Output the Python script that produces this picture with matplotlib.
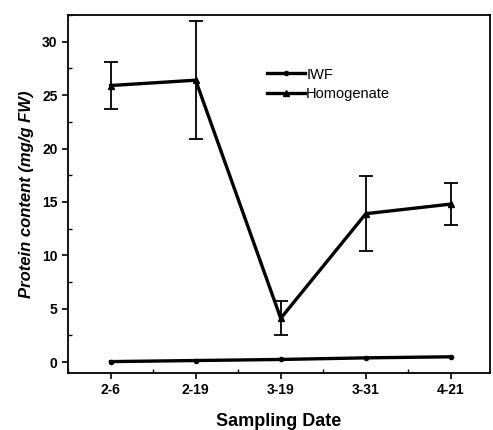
import matplotlib
matplotlib.use("Agg")
import matplotlib.pyplot as plt
from matplotlib.ticker import MultipleLocator
from matplotlib.lines import Line2D

dates = ["2-6", "2-19", "3-19", "3-31", "4-21"]
iwf = [0.05, 0.15, 0.25, 0.4, 0.5]
homogenate = [25.9, 26.4, 4.1, 13.9, 14.8]
homogenate_err = [2.2, 5.5, 1.6, 3.5, 2.0]

plt.rcParams['font.family'] = ['Liberation Sans', 'DejaVu Sans']

fig = plt.figure(figsize=(4.93, 4.30), dpi=100)
ax = fig.add_axes([0.138, 0.133, 0.856, 0.832])

x = list(range(len(dates)))
ax.plot(x, iwf, color='black', lw=2.4, marker='o', ms=3)
ax.errorbar(x, homogenate, yerr=homogenate_err, color='black', lw=2.4,
            marker='^', ms=4, capsize=5, elinewidth=1.3, capthick=1.3)

ax.set_xlim(-0.5, 4.46)
ax.set_ylim(-1.0, 32.5)
ax.set_xticks(x)
ax.set_xticklabels(dates, fontweight='bold', fontsize=10)
ax.yaxis.set_major_locator(MultipleLocator(5))
ax.yaxis.set_minor_locator(MultipleLocator(2.5))
ax.xaxis.set_minor_locator(MultipleLocator(0.5))
for lab in ax.get_yticklabels():
    lab.set_fontweight('bold')
    lab.set_fontsize(10)
ax.tick_params(axis='both', which='major', direction='out', length=4, width=1.2)
ax.tick_params(axis='both', which='minor', direction='in', length=3, width=1)
for s in ax.spines.values():
    s.set_linewidth(1.3)

ax.set_xlabel("Sampling Date", fontweight='bold', fontsize=13, labelpad=11)
ax.set_ylabel("Protein content (mg/g FW)", fontweight='bold', fontstyle='italic',
              fontsize=12, labelpad=6)

handles = [Line2D([], [], color='black', lw=2.4, marker='o', ms=3),
           Line2D([], [], color='black', lw=2.4, marker='^', ms=4)]
ax.legend(handles, ['IWF', 'Homogenate'], loc='upper left',
          bbox_to_anchor=(0.44, 0.89), frameon=False,
          fontsize=10.5, handlelength=2.6, handletextpad=0.1,
          labelspacing=0.4)

fig.savefig("out.png", dpi=100)
